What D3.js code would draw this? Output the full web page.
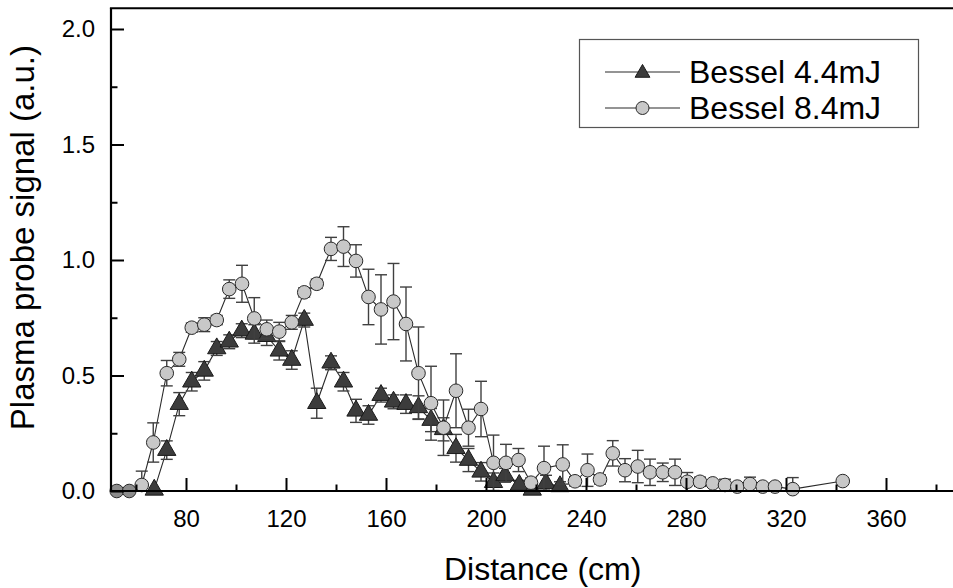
<!DOCTYPE html>
<html>
<head>
<meta charset="utf-8">
<script src="https://cdn.jsdelivr.net/npm/d3@7/dist/d3.min.js"></script>
<style>
  html, body { margin: 0; padding: 0; background: #fff; }
  svg { display: block; font-family: "Liberation Sans", Arial, sans-serif; }
</style>
</head>
<body>
<svg id="chart" width="953" height="588"></svg>
<script>
// ---- data ----
const seriesNames = ["Bessel 4.4mJ", "Bessel 8.4mJ"];

// Bessel 4.4mJ (triangles)
const triX = [67.3, 72.3, 77.3, 82.3, 87.3, 92.3, 97.3, 102.3, 107.3, 112.3, 117.3, 122.3, 127.3, 132.3, 138, 143, 148, 153, 158, 163, 168, 173, 178, 183, 188, 193, 198, 203, 207.6, 213.3, 218.5, 224, 229.6];
const triY = [0.005, 0.177, 0.376, 0.473, 0.52, 0.617, 0.646, 0.694, 0.68, 0.67, 0.607, 0.567, 0.74, 0.38, 0.555, 0.473, 0.347, 0.329, 0.415, 0.386, 0.376, 0.362, 0.307, 0.267, 0.185, 0.134, 0.083, 0.038, 0.068, 0.026, 0.005, 0.033, 0.02];
const triErr = [0.0, 0.04, 0.05, 0.04, 0.04, 0.03, 0.03, 0.03, 0.04, 0.04, 0.04, 0.04, 0.03, 0.065, 0.03, 0.04, 0.05, 0.04, 0.03, 0.03, 0.04, 0.05, 0.05, 0.05, 0.06, 0.05, 0.04, 0.04, 0.03, 0.02, 0.01, 0.035, 0.02];

// Bessel 8.4mJ (circles)
const circX = [52.3, 57.3, 62.3, 66.9, 72.3, 77.3, 82.3, 87.3, 92.3, 97.3, 102.4, 107.3, 112.3, 117.3, 122.3, 127.3, 132.3, 138, 143, 148, 153, 158, 163, 168, 173, 178, 183, 188, 193, 198, 203, 208, 213, 218, 223.2, 230.7, 235.6, 240.6, 245.6, 250.7, 255.6, 260.7, 265.6, 270.7, 275.6, 280.5, 285.6, 290.7, 295.6, 300.5, 305.6, 310.7, 315.6, 322.7, 342.7];
const circY = [0.0, 0.0, 0.026, 0.21, 0.51, 0.57, 0.707, 0.72, 0.74, 0.874, 0.897, 0.747, 0.70, 0.69, 0.73, 0.86, 0.897, 1.048, 1.058, 0.996, 0.84, 0.786, 0.82, 0.723, 0.51, 0.38, 0.274, 0.434, 0.274, 0.355, 0.122, 0.122, 0.134, 0.036, 0.099, 0.115, 0.042, 0.09, 0.05, 0.163, 0.09, 0.106, 0.081, 0.081, 0.081, 0.04, 0.04, 0.033, 0.026, 0.019, 0.03, 0.019, 0.019, 0.008, 0.043];
const circErr = [0.0, 0.0, 0.06, 0.085, 0.055, 0.03, 0.02, 0.03, 0.02, 0.04, 0.08, 0.09, 0.04, 0.04, 0.03, 0.02, 0.02, 0.05, 0.086, 0.07, 0.12, 0.15, 0.165, 0.16, 0.2, 0.16, 0.12, 0.16, 0.08, 0.12, 0.12, 0.08, 0.05, 0.02, 0.095, 0.085, 0.02, 0.07, 0.02, 0.055, 0.05, 0.07, 0.057, 0.04, 0.057, 0.04, 0.02, 0.01, 0.025, 0.01, 0.03, 0.01, 0.01, 0.05, 0.01];

const xMajorTicks = [80, 120, 160, 200, 240, 280, 320, 360];
const xMinorTicks = [60, 100, 140, 180, 220, 260, 300, 340, 380];
const yMajorTicks = [0.0, 0.5, 1.0, 1.5, 2.0];
const yMinorTicks = [0.25, 0.75, 1.25, 1.75];

const xTitle = "Distance (cm)";
const yTitle = "Plasma probe signal (a.u.)";

(function () {
// ---- layout ----
const svg = d3.select("#chart");
const pL = 111, pR = 961, pT = 8.2, pB = 491;

const x = d3.scaleLinear().domain([50, 390]).range([pL, pR]);
const y = d3.scaleLinear().domain([0, 2.09]).range([pB, pT]);

const dark = "#3c3c3c";
const light = "#c8c8c8";

const line = d3.line().x(d => x(d[0])).y(d => y(d[1]));
const triData = triX.map((v, i) => [v, triY[i], triErr[i]]);
const circData = circX.map((v, i) => [v, circY[i], circErr[i]]);

const plot = svg.append("g");

function drawSeries(data, kind) {
  const g = plot.append("g");
  g.append("path").datum(data)
    .attr("d", line).attr("fill", "none")
    .attr("stroke", "#2a2a2a").attr("stroke-width", 1.1);
  const eb = g.append("g").attr("stroke", "#404040").attr("stroke-width", 1.4).attr("fill", "none");
  data.filter(d => d[2] > 0).forEach(d => {
    const cx = x(d[0]);
    const y1 = y(d[1] + d[2]), y0 = y(Math.max(0, d[1] - d[2]));
    eb.append("line").attr("x1", cx).attr("x2", cx).attr("y1", y1).attr("y2", y0);
    eb.append("line").attr("x1", cx - 6).attr("x2", cx + 6).attr("y1", y1).attr("y2", y1);
    eb.append("line").attr("x1", cx - 6).attr("x2", cx + 6).attr("y1", y0).attr("y2", y0);
  });
  if (kind === "tri") {
    g.selectAll("path.m").data(data).join("path").attr("class", "m")
      .attr("d", d3.symbol().type(d3.symbolTriangle).size(145))
      .attr("transform", d => `translate(${x(d[0])},${y(d[1])})`)
      .attr("fill", dark).attr("stroke", "#1a1a1a").attr("stroke-width", 1);
  } else {
    g.selectAll("circle.m").data(data).join("circle").attr("class", "m")
      .attr("cx", d => x(d[0])).attr("cy", d => y(d[1])).attr("r", 6.8)
      .attr("fill", (d, i) => i < 2 ? "#8c8c8c" : light)
      .attr("stroke", "#2a2a2a").attr("stroke-width", 1);
  }
}
drawSeries(triData, "tri");
drawSeries(circData, "circ");

// ---- axes ----
const axisFont = 24;
const xAxis = svg.append("g").attr("transform", `translate(0,${pB})`)
  .call(d3.axisBottom(x).tickValues(xMajorTicks).tickSize(-13).tickPadding(19).tickFormat(d3.format("d")));
const xMinor = svg.append("g").attr("transform", `translate(0,${pB})`)
  .call(d3.axisBottom(x).tickValues(xMinorTicks).tickSize(-6.5).tickFormat(""));
const yAxis = svg.append("g").attr("transform", `translate(${pL},0)`)
  .call(d3.axisLeft(y).tickValues(yMajorTicks).tickSize(-13).tickPadding(16).tickFormat(d3.format(".1f")));
const yMinor = svg.append("g").attr("transform", `translate(${pL},0)`)
  .call(d3.axisLeft(y).tickValues(yMinorTicks).tickSize(-6.5).tickFormat(""));

[xAxis, xMinor, yAxis, yMinor].forEach(a => {
  a.select(".domain").remove();
  a.selectAll(".tick line").attr("stroke", "#000").attr("stroke-width", 2);
  a.selectAll(".tick text").attr("font-size", axisFont).attr("fill", "#000")
    .attr("font-family", "Liberation Sans, Arial, sans-serif");
});

svg.append("line").attr("x1", pL).attr("x2", 953).attr("y1", pB).attr("y2", pB)
  .attr("stroke", "#000").attr("stroke-width", 2.2);
svg.append("line").attr("x1", pL).attr("x2", pL).attr("y1", pT).attr("y2", pB + 1.1)
  .attr("stroke", "#000").attr("stroke-width", 2.2);
svg.append("line").attr("x1", pL - 1.1).attr("x2", 953).attr("y1", pT).attr("y2", pT)
  .attr("stroke", "#000").attr("stroke-width", 2);

// ---- titles ----
svg.append("text").attr("x", 444).attr("y", 580).attr("font-size", 32)
  .attr("fill", "#000").text(xTitle);
svg.append("text").attr("transform", "translate(34,45) rotate(-90)")
  .attr("text-anchor", "end").attr("font-size", 33).attr("fill", "#000").text(yTitle);

// ---- legend ----
const lg = svg.append("g");
lg.append("rect").attr("x", 579.5).attr("y", 39.5).attr("width", 339).attr("height", 88)
  .attr("fill", "#fff").attr("stroke", "#555").attr("stroke-width", 1.2);
const rows = [72, 108];
seriesNames.forEach((name, i) => {
  const ry = rows[i];
  lg.append("line").attr("x1", 605).attr("x2", 680).attr("y1", ry).attr("y2", ry)
    .attr("stroke", "#2a2a2a").attr("stroke-width", 1.1);
  if (i === 0) {
    lg.append("path").attr("d", d3.symbol().type(d3.symbolTriangle).size(95)())
      .attr("transform", `translate(642.5,${ry + 1})`)
      .attr("fill", dark).attr("stroke", "#1a1a1a").attr("stroke-width", 1);
  } else {
    lg.append("circle").attr("cx", 642.5).attr("cy", ry).attr("r", 6.5)
      .attr("fill", light).attr("stroke", "#2a2a2a").attr("stroke-width", 1);
  }
  lg.append("text").attr("x", 689).attr("y", ry + 11).attr("font-size", 32)
    .attr("fill", "#000").text(name);
});
})();
</script>
</body>
</html>
